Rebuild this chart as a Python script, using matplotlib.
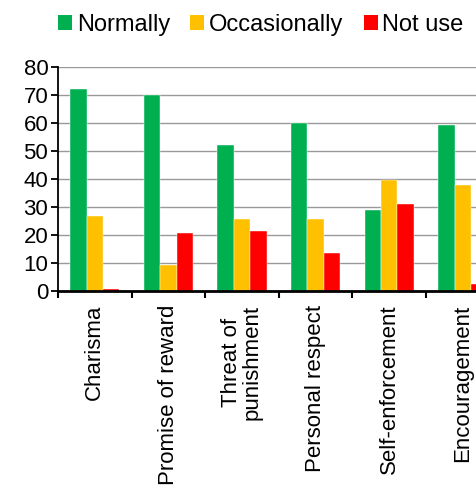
import numpy as np
from matplotlib import pyplot as plt
from matplotlib.patches import Patch

categories = ["Charisma", "Promise of reward", "Threat of\npunishment",
              "Personal respect", "Self-enforcement", "Encouragement"]
normally = [72.2, 70.0, 52.3, 60.0, 29.0, 59.3]
occasionally = [26.8, 9.3, 25.6, 25.6, 39.7, 38.0]
not_use = [0.7, 20.6, 21.3, 13.6, 31.1, 2.3]
series_names = ["Normally", "Occasionally", "Not use"]
colors = ["#00B050", "#FFC000", "#FF0000"]


def main() -> None:
    plt.rcParams["font.family"] = ["Liberation Sans", "DejaVu Sans"]
    fig = plt.figure(figsize=(4.77, 4.86), dpi=100)
    # the right part of the plot runs past the image edge, as in the original
    ax = fig.add_axes([58 / 477, 1 - 290.7 / 486, 441.6 / 477, (290.7 - 67.3) / 486])

    x = np.arange(len(categories))
    width = 0.222
    for i, (vals, color) in enumerate(zip([normally, occasionally, not_use], colors)):
        ax.bar(x + (i - 1) * width, vals, width, color=color,
               edgecolor="white", linewidth=0.3, zorder=3)

    ax.set_xlim(-0.5, len(categories) - 0.5)
    ax.set_ylim(0, 80)
    ax.set_yticks(range(0, 81, 10))
    ax.yaxis.grid(True, color="#999999", linewidth=1.0, zorder=0)
    ax.tick_params(axis="y", labelsize=16, length=5, width=1.3, direction="out",
                   pad=2)

    ax.set_xticks(x)
    ax.set_xticklabels(categories, rotation=90, fontsize=16, ha="center",
                       va="top", multialignment="center", linespacing=1.0)
    ax.set_xticks(np.arange(-0.5, len(categories), 1.0), minor=True)
    ax.tick_params(axis="x", which="major", length=0, pad=10)
    ax.tick_params(axis="x", which="minor", length=5, width=1.5, direction="out")

    for side in ["top", "right"]:
        ax.spines[side].set_visible(False)
    ax.spines["left"].set_linewidth(1.3)
    ax.spines["bottom"].set_linewidth(2.0)
    ax.spines["bottom"].set_zorder(4)

    handles = [Patch(facecolor=c) for c in colors]
    fig.legend(handles, series_names, loc="center left", bbox_to_anchor=(58 / 477, 0.949),
               ncol=3, frameon=False, fontsize=17, handlelength=0.6,
               handleheight=0.6, handletextpad=0.2, columnspacing=0.85,
               borderaxespad=0, borderpad=0)

    fig.savefig("out.png", dpi=100)


if __name__ == "__main__":
    main()
